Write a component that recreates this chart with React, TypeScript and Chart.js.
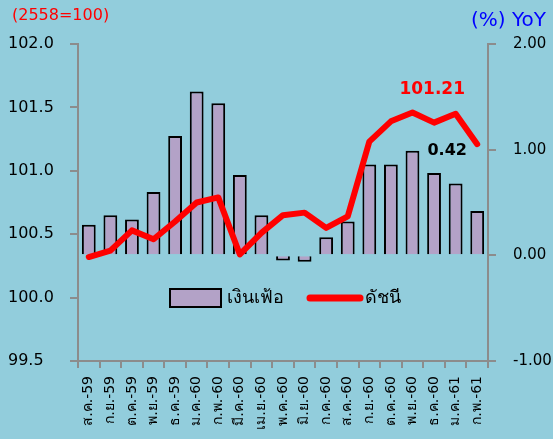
import React, { useEffect, useRef } from "react";
import { Chart, registerables } from "chart.js";

Chart.register(...registerables);

const categories = [
  "ส.ค.-59", "ก.ย.-59", "ต.ค.-59", "พ.ย.-59", "ธ.ค.-59",
  "ม.ค.-60", "ก.พ.-60", "มี.ค.-60", "เม.ย.-60", "พ.ค.-60",
  "มิ.ย.-60", "ก.ค.-60", "ส.ค.-60", "ก.ย.-60", "ต.ค.-60",
  "พ.ย.-60", "ธ.ค.-60", "ม.ค.-61", "ก.พ.-61",
];

// เงินเฟ้อ (% YoY) – right axis
const inflation = [
  0.29, 0.38, 0.34, 0.6, 1.13, 1.55, 1.44, 0.76, 0.38, -0.05,
  -0.06, 0.17, 0.32, 0.86, 0.86, 0.99, 0.78, 0.68, 0.42,
];

// ดัชนี (2558=100) – left axis
const cpiIndex = [
  100.32, 100.37, 100.53, 100.46, 100.6, 100.75, 100.79, 100.34, 100.51, 100.65,
  100.67, 100.55, 100.64, 101.23, 101.39, 101.46, 101.38, 101.45, 101.21,
];

const seriesNames = ["เงินเฟ้อ", "ดัชนี"];
const leftTitle = "(2558=100)";
const rightTitle = "(%) YoY";

const BG = "#92CDDC";
const BAR = "#B3A2C7";
const LINE = "#FF0000";
const AXIS = "#8C8C8C";
const FONT = "Tahoma, 'DejaVu Sans', sans-serif";

const overlayPlugin = {
  id: "overlay",
  afterDatasetsDraw(chart: any) {
    const { ctx, chartArea, scales } = chart;
    const x = scales.x;
    const yL = scales.y;
    const yR = scales.y1;
    ctx.save();

    // titles
    ctx.textBaseline = "middle";
    ctx.fillStyle = "#FF0000";
    ctx.font = `16px ${FONT}`;
    ctx.textAlign = "left";
    ctx.fillText(leftTitle, 12, 16);
    ctx.fillStyle = "#0000FF";
    ctx.font = `20px ${FONT}`;
    ctx.textAlign = "right";
    ctx.fillText(rightTitle, 546, 21);

    // data labels for last point
    const last = categories.length - 1;
    const px = x.getPixelForValue(last);
    const lineY = yL.getPixelForValue(cpiIndex[last]);
    const barY = yR.getPixelForValue(inflation[last]);
    ctx.textAlign = "center";
    ctx.fillStyle = "#FF0000";
    ctx.font = `bold 17px ${FONT}`;
    ctx.fillText(cpiIndex[last].toFixed(2), px - 45, lineY - 55);
    ctx.fillStyle = "#000000";
    ctx.font = `bold 16px ${FONT}`;
    ctx.fillText(inflation[last].toFixed(2), px - 30, barY - 60);

    // legend (inside plot)
    const ly = chartArea.top + 254;
    const lx = chartArea.left + 92;
    ctx.fillStyle = BAR;
    ctx.strokeStyle = "#000";
    ctx.lineWidth = 2;
    ctx.fillRect(lx, ly - 9, 51, 18);
    ctx.strokeRect(lx, ly - 9, 51, 18);
    ctx.fillStyle = "#000";
    ctx.font = `18px ${FONT}`;
    ctx.textAlign = "left";
    ctx.fillText(seriesNames[0], lx + 57, ly);
    ctx.strokeStyle = LINE;
    ctx.lineWidth = 7;
    ctx.lineCap = "round";
    ctx.beginPath();
    ctx.moveTo(lx + 140, ly);
    ctx.lineTo(lx + 190, ly);
    ctx.stroke();
    ctx.fillText(seriesNames[1], lx + 195, ly);
    ctx.restore();
  },
};

export default function App() {
  const ref = useRef<HTMLCanvasElement>(null);
  useEffect(() => {
    if (!ref.current) return;
    const chart = new Chart(ref.current, {
      type: "bar",
      data: {
        labels: categories,
        datasets: [
          {
            type: "bar",
            label: seriesNames[0],
            data: inflation,
            yAxisID: "y1",
            backgroundColor: BAR,
            borderColor: "#000",
            borderWidth: 2,
            barPercentage: 0.64,
            categoryPercentage: 1,
            order: 1,
          },
          {
            type: "line",
            label: seriesNames[1],
            data: cpiIndex,
            yAxisID: "y",
            borderColor: LINE,
            borderWidth: 6,
            pointRadius: 0,
            tension: 0,
            borderCapStyle: "round",
            borderJoinStyle: "round",
            order: 0,
          } as any,
        ],
      },
      options: {
        responsive: false,
        animation: false,
        layout: { padding: { top: 44, left: 8, right: 0, bottom: 0 } },
        plugins: {
          legend: { display: false },
          tooltip: { enabled: false },
        },
        scales: {
          x: {
            grid: {
              display: true,
              drawOnChartArea: false,
              drawTicks: true,
              tickLength: 7,
              color: AXIS,
              lineWidth: 2,
              offset: true,
            },
            border: { color: AXIS, width: 2 },
            ticks: {
              minRotation: 90,
              maxRotation: 90,
              autoSkip: false,
              padding: 8,
              color: "#000",
              font: { family: FONT, size: 14 },
            },
            afterFit: (s: any) => {
              s.height = 78;
            },
          },
          y: {
            position: "left",
            min: 99.5,
            max: 102,
            grid: {
              display: true,
              drawOnChartArea: false,
              tickLength: 8,
              color: AXIS,
              lineWidth: 2,
            },
            border: { color: AXIS, width: 2 },
            ticks: {
              stepSize: 0.5,
              crossAlign: "far",
              color: "#000",
              font: { family: FONT, size: 16 },
              callback: (v: any) => Number(v).toFixed(1),
            },
            afterFit: (s: any) => {
              s.width = 70;
            },
          },
          y1: {
            position: "right",
            min: -1,
            max: 2,
            grid: {
              display: true,
              drawOnChartArea: false,
              tickLength: 8,
              color: AXIS,
              lineWidth: 2,
            },
            border: { color: AXIS, width: 2 },
            ticks: {
              stepSize: 1,
              crossAlign: "near",
              padding: 17,
              color: "#000",
              font: { family: FONT, size: 15 },
              callback: (v: any) => Number(v).toFixed(2),
            },
            afterFit: (s: any) => {
              s.width = 65;
            },
          },
        },
      },
      plugins: [overlayPlugin],
    });
    return () => chart.destroy();
  }, []);

  return (
    <div
      style={{
        position: "fixed",
        left: 0,
        top: 0,
        width: 553,
        height: 439,
        background: BG,
      }}
    >
      <canvas ref={ref} width={553} height={439} style={{ display: "block" }} />
    </div>
  );
}
